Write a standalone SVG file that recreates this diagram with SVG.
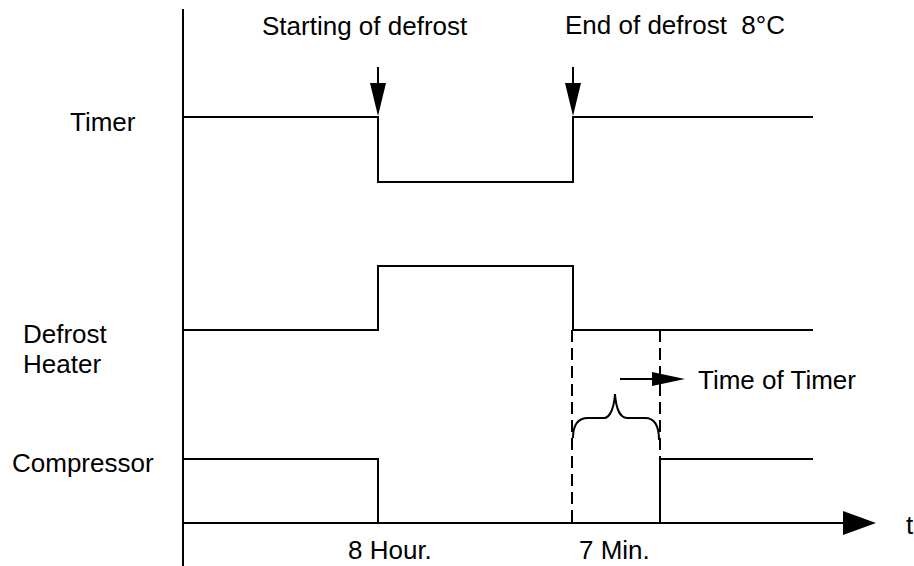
<svg xmlns="http://www.w3.org/2000/svg" width="914" height="566" viewBox="0 0 914 566">
<style>
text{font-family:"Liberation Sans",Arial,sans-serif;font-size:26px;fill:#000}
.ln{fill:none;stroke:#000;stroke-width:2}
.dash{fill:none;stroke:#000;stroke-width:2;stroke-dasharray:12 6}
.head{fill:#000;stroke:none}
</style>
<rect width="914" height="566" fill="#fff"/>
<g id="axes">
<line class="ln" x1="183" y1="9" x2="183" y2="566"/>
<line class="ln" x1="183" y1="523" x2="845" y2="523"/>
<polygon class="head" points="843,511 876,523 843,535"/>
<text x="906" y="534">t</text>
<text x="348" y="559">8 Hour.</text>
<text x="579" y="559">7 Min.</text>
</g>
<g id="timer">
<text x="70" y="131">Timer</text>
<polyline class="ln" points="183,117 378,117 378,182 573,182 573,117 813,117"/>
</g>
<g id="defrost-heater">
<text x="23" y="343">Defrost</text>
<text x="23" y="373">Heater</text>
<polyline class="ln" points="183,330 378,330 378,266 573,266 573,330 813,330"/>
</g>
<g id="compressor">
<text x="12" y="472">Compressor</text>
<polyline class="ln" points="183,459 378,459 378,523"/>
<polyline class="ln" points="660,523 660,459 813,459"/>
</g>
<g id="connectors">
<line class="ln" x1="378" y1="67" x2="378" y2="90"/>
<polygon class="head" points="370,83 386,83 378,116"/>
<line class="ln" x1="573" y1="67" x2="573" y2="90"/>
<polygon class="head" points="565,83 581,83 573,116"/>
<line class="dash" x1="572" y1="330" x2="572" y2="523"/>
<line class="dash" x1="660" y1="330" x2="660" y2="459"/>
<path class="ln" d="M573,438 C573,424 578,418 588,418 L604,418 C610,418 614,408 615,394 C616,408 620,418 627,418 L645,418 C654,418 659,424 659,440"/>
<line class="ln" x1="620" y1="379" x2="655" y2="379"/>
<polygon class="head" points="652,372 685,379 652,386"/>
</g>
<g id="labels">
<text x="262" y="35">Starting of defrost</text>
<text x="565" y="34" xml:space="preserve" style="white-space:pre">End of defrost  8°C</text>
<text x="698" y="389">Time of Timer</text>
</g>
</svg>
